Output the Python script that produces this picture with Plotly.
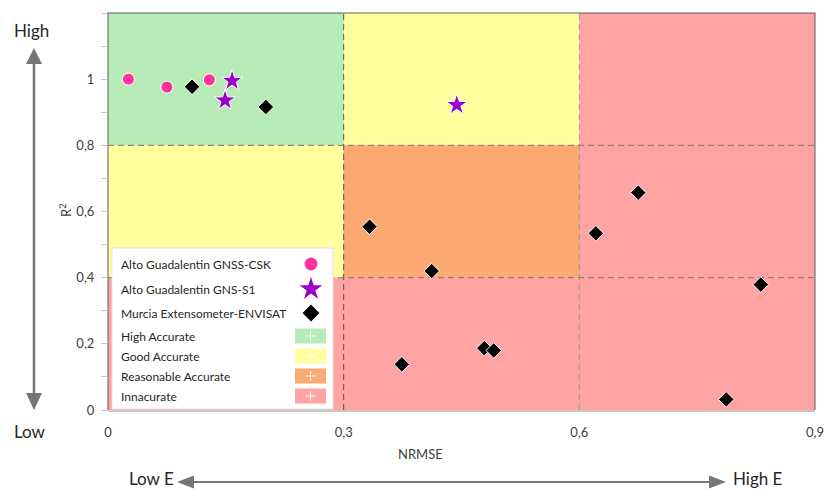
import plotly.graph_objects as go

# ---------------- data ----------------
csk_x = [0.026, 0.075, 0.129]
csk_y = [1.000, 0.976, 0.998]

s1_x = [0.158, 0.149, 0.444]
s1_y = [0.995, 0.936, 0.922]

env_x = [0.107, 0.201, 0.333, 0.412, 0.374, 0.479, 0.491, 0.621, 0.675, 0.831, 0.787]
env_y = [0.977, 0.916, 0.554, 0.420, 0.138, 0.187, 0.180, 0.534, 0.657, 0.379, 0.032]

series_names = ["Alto Guadalentin GNSS-CSK", "Alto Guadalentin GNS-S1", "Murcia Extensometer-ENVISAT"]
zone_names = ["High Accurate", "Good Accurate", "Reasonable Accurate", "Innacurate"]

x_tickvals = [0, 0.3, 0.6, 0.9]
x_ticktext = ["0", "0,3", "0,6", "0,9"]
y_tickvals = [0, 0.2, 0.4, 0.6, 0.8, 1.0]
y_ticktext = ["0", "0,2", "0,4", "0,6", "0,8", "1"]
y_minor_ticks = [0.1, 0.3, 0.5, 0.7, 0.9, 1.1, 1.2]

nrmse_cuts = [0.3, 0.6]
r2_cuts = [0.4, 0.8]
X_MAX, Y_MAX = 0.9, 1.2

# ---------------- styling ----------------
W, H = 825, 490
L, R, T, B = 108, 10, 13, 80
PW, PH = W - L - R, H - T - B
FONT = "Lato"

C_GREEN = "#b7ebb7"
C_YELLOW = "#ffffa0"
C_ORANGE = "#fcaa72"
C_RED = "#ffa3a3"
C_PINK = "#ff3399"
C_PURPLE = "#9900cc"
ARROW = "#767676"
TICK = "#c8c8c8"


def px(p):
    return (p - L) / PW


def py(p):
    return (H - B - p) / PH


def dx(p):  # pixel -> data x
    return px(p) * X_MAX


def dy(p):  # pixel -> data y
    return py(p) * Y_MAX


fig = go.Figure()

# data series
fig.add_trace(go.Scatter(x=csk_x, y=csk_y, mode="markers", name=series_names[0],
                         marker=dict(symbol="circle", size=12, color=C_PINK,
                                     line=dict(width=1, color="white"))))
fig.add_trace(go.Scatter(x=s1_x, y=s1_y, mode="markers", name=series_names[1],
                         marker=dict(symbol="star", size=16, color=C_PURPLE,
                                     line=dict(width=1, color="white"))))
fig.add_trace(go.Scatter(x=env_x, y=env_y, mode="markers", name=series_names[2],
                         marker=dict(symbol="diamond", size=12, color="black",
                                     line=dict(width=1, color="white"))))

shapes = []
# zones
a, b = nrmse_cuts
lo, hi = r2_cuts
shapes.append(dict(type="rect", xref="x", yref="y", x0=0, x1=X_MAX, y0=0, y1=Y_MAX,
                   fillcolor=C_RED, line=dict(width=0), layer="below"))
shapes.append(dict(type="rect", xref="x", yref="y", x0=0, x1=a, y0=hi, y1=Y_MAX,
                   fillcolor=C_GREEN, line=dict(width=0), layer="below"))
shapes.append(dict(type="rect", xref="x", yref="y", x0=a, x1=b, y0=hi, y1=Y_MAX,
                   fillcolor=C_YELLOW, line=dict(width=0), layer="below"))
shapes.append(dict(type="rect", xref="x", yref="y", x0=0, x1=a, y0=lo, y1=hi,
                   fillcolor=C_YELLOW, line=dict(width=0), layer="below"))
shapes.append(dict(type="rect", xref="x", yref="y", x0=a, x1=b, y0=lo, y1=hi,
                   fillcolor=C_ORANGE, line=dict(width=0), layer="below"))
# dashed dividers
shapes.append(dict(type="line", xref="x", yref="y", x0=a, x1=a, y0=0, y1=Y_MAX,
                   line=dict(color="#555555", width=1, dash="6px,4px"), layer="below"))
shapes.append(dict(type="line", xref="x", yref="y", x0=b, x1=b, y0=0, y1=Y_MAX,
                   line=dict(color="#9a9a9a", width=1, dash="6px,4px"), layer="below"))
for c in r2_cuts:
    shapes.append(dict(type="line", xref="x", yref="y", x0=0, x1=X_MAX, y0=c, y1=c,
                       line=dict(color="#7a7a7a", width=1, dash="6px,4px"), layer="below"))

# legend box (in the subplot's below layer so its symbols show on top)
lb_x0, lb_x1, lb_y0, lb_y1 = 112, 333, 248, 409
shapes.append(dict(type="rect", xref="x", yref="y", layer="below",
                   x0=dx(lb_x0), x1=dx(lb_x1), y0=dy(lb_y1), y1=dy(lb_y0),
                   fillcolor="white", line=dict(color="#e0e0e0", width=1)))
zone_cols = [C_GREEN, C_YELLOW, C_ORANGE, C_RED]
zone_rows = [336, 356, 376, 396]
for col, yc in zip(zone_cols, zone_rows):
    shapes.append(dict(type="rect", xref="x", yref="y", layer="below",
                       x0=dx(295), x1=dx(326), y0=dy(yc + 7.5), y1=dy(yc - 7.5),
                       fillcolor=col, line=dict(width=0)))
    shapes.append(dict(type="line", xref="x", yref="y", layer="below",
                       x0=dx(310.5 - 5), x1=dx(310.5 + 5), y0=dy(yc), y1=dy(yc),
                       line=dict(color="white", width=1)))
    shapes.append(dict(type="line", xref="x", yref="y", layer="below",
                       x0=dx(310.5), x1=dx(310.5), y0=dy(yc - 5), y1=dy(yc + 5),
                       line=dict(color="white", width=1)))

# frame (top/left/right)
shapes.append(dict(type="path", xref="paper", yref="paper",
                   path="M0,0 L0,1 L1,1 L1,0",
                   line=dict(color="rgba(90,90,90,0.65)", width=1.5)))

# arrows (vertical)
vx = 34
shapes.append(dict(type="line", xref="paper", yref="paper", x0=px(vx), x1=px(vx),
                   y0=py(62), y1=py(395), line=dict(color=ARROW, width=2.5)))
shapes.append(dict(type="path", xref="paper", yref="paper",
                   path=f"M{px(vx)},{py(48)} L{px(vx-8)},{py(64)} L{px(vx+8)},{py(64)} Z",
                   fillcolor=ARROW, line=dict(width=0)))
shapes.append(dict(type="path", xref="paper", yref="paper",
                   path=f"M{px(vx)},{py(410)} L{px(vx-8)},{py(393)} L{px(vx+8)},{py(393)} Z",
                   fillcolor=ARROW, line=dict(width=0)))
# arrows (horizontal)
hy = 482
shapes.append(dict(type="line", xref="paper", yref="paper", x0=px(192), x1=px(711),
                   y0=py(hy), y1=py(hy), line=dict(color=ARROW, width=2)))
shapes.append(dict(type="path", xref="paper", yref="paper",
                   path=f"M{px(177)},{py(hy)} L{px(194)},{py(hy-6.5)} L{px(194)},{py(hy+6.5)} Z",
                   fillcolor=ARROW, line=dict(width=0)))
shapes.append(dict(type="path", xref="paper", yref="paper",
                   path=f"M{px(726)},{py(hy)} L{px(709)},{py(hy-6.5)} L{px(709)},{py(hy+6.5)} Z",
                   fillcolor=ARROW, line=dict(width=0)))

# legend symbols on an overlay pixel axis
leg_rows = [264, 289, 313]
leg_sym = [("circle", 13, C_PINK), ("star", 17, C_PURPLE), ("diamond", 13, "black")]
for (sym, sz, col), yc in zip(leg_sym, leg_rows):
    fig.add_trace(go.Scatter(x=[311], y=[yc], xaxis="x2", yaxis="y2", mode="markers",
                             showlegend=False, hoverinfo="skip",
                             marker=dict(symbol=sym, size=sz, color=col)))

annotations = []
txt_col = "#262626"
for name, yc in zip(series_names + zone_names, leg_rows + zone_rows):
    annotations.append(dict(xref="paper", yref="paper", x=px(119), y=py(yc),
                            xanchor="left", yanchor="middle", showarrow=False,
                            text=name, font=dict(family=FONT, size=12, color=txt_col)))

big = dict(family=FONT, size=17, color="#262626")
annotations += [
    dict(xref="paper", yref="paper", x=px(31), y=py(31), text="High", showarrow=False,
         xanchor="center", yanchor="middle", font=big),
    dict(xref="paper", yref="paper", x=px(30), y=py(431), text="Low", showarrow=False,
         xanchor="center", yanchor="middle", font=big),
    dict(xref="paper", yref="paper", x=px(176), y=py(479), text="Low E", showarrow=False,
         xanchor="right", yanchor="middle", font=big),
    dict(xref="paper", yref="paper", x=px(731), y=py(479), text="High E", showarrow=False,
         xanchor="left", yanchor="middle", font=big),
    dict(xref="paper", yref="paper", x=px(420), y=py(454), text="NRMSE", showarrow=False,
         xanchor="center", yanchor="middle", font=dict(family=FONT, size=13, color="#404040")),
    dict(xref="paper", yref="paper", x=px(66), y=py(211), text="R<sup>2</sup>", showarrow=False,
         textangle=-90, xanchor="center", yanchor="middle",
         font=dict(family=FONT, size=13, color="#404040")),
]

fig.update_layout(
    width=W, height=H,
    margin=dict(l=L, r=R, t=T, b=B, autoexpand=False),
    paper_bgcolor="white", plot_bgcolor="white",
    showlegend=False,
    shapes=shapes, annotations=annotations,
    font=dict(family=FONT, size=13, color="#404040"),
    xaxis=dict(range=[0, X_MAX], tickvals=x_tickvals, ticktext=x_ticktext,
               showgrid=False, zeroline=False, showline=True, linecolor=TICK,
               linewidth=1.5, ticks="", ticklabelstandoff=10,
               tickfont=dict(family=FONT, size=13, color="#404040")),
    yaxis=dict(range=[0, Y_MAX], tickvals=y_tickvals, ticktext=y_ticktext,
               showgrid=False, zeroline=False, showline=False,
               ticks="outside", ticklen=6, tickcolor=TICK,
               ticklabelstandoff=4,
               minor=dict(tickvals=y_minor_ticks, ticks="outside", ticklen=6,
                          tickcolor=TICK, showgrid=False),
               tickfont=dict(family=FONT, size=13, color="#404040")),
    xaxis2=dict(range=[L, W - R], overlaying="x", visible=False, fixedrange=True),
    yaxis2=dict(range=[H - B, T], overlaying="y", visible=False, fixedrange=True),
)

fig.write_html(
    "out.html",
    config={"displayModeBar": False},
    post_script="document.body.style.margin='0';document.body.style.overflow='hidden';",
)
